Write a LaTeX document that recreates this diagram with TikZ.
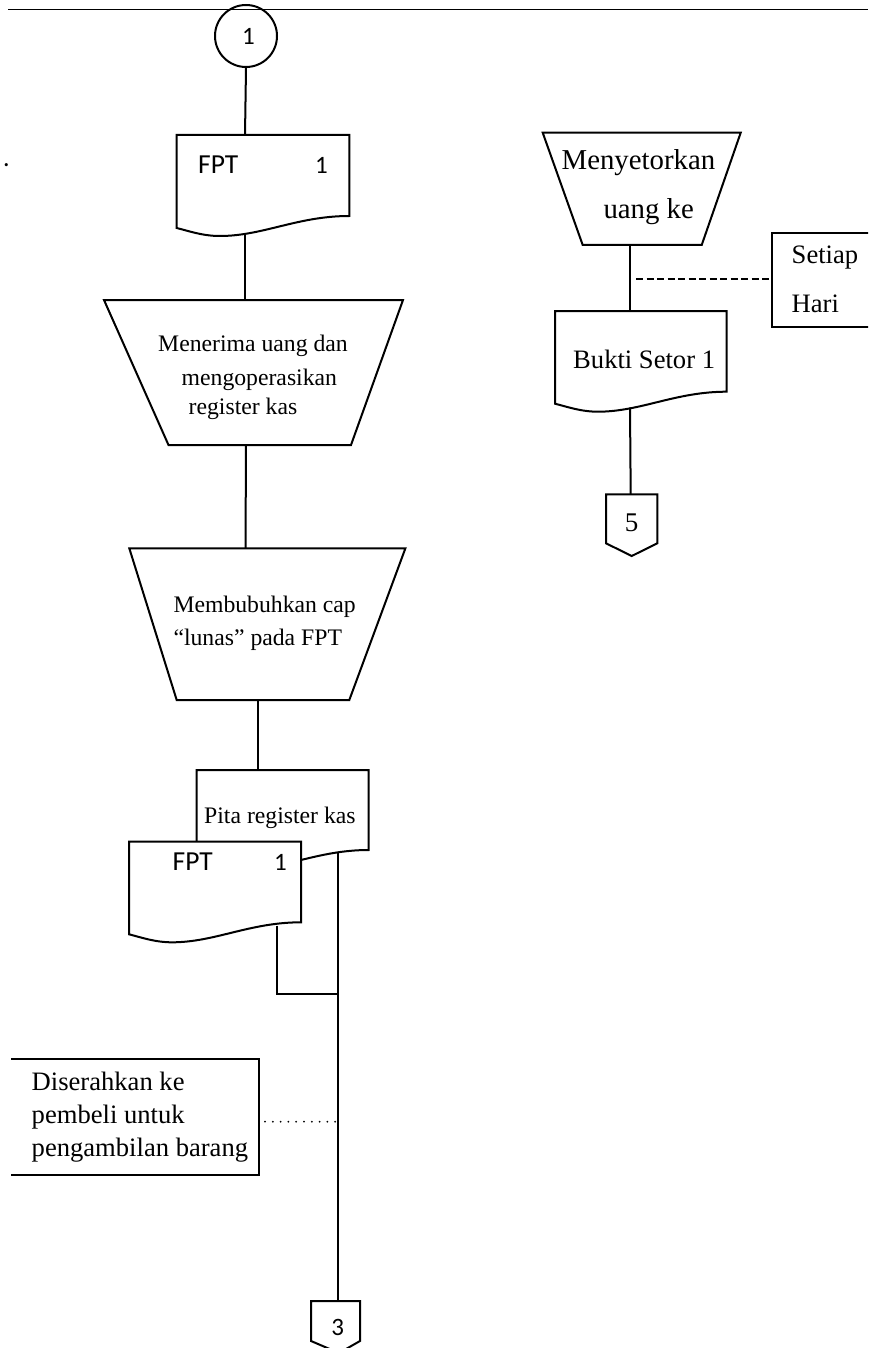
\documentclass[tikz,border=0pt]{standalone}
\usepackage{fontspec}
\setmainfont{Liberation Serif}
\newfontfamily\carl{Carlito}

% document symbol: flat top, wavy bottom edge (x0, x1, top, right-bottom y)
\newcommand\DocBox[4]{%
  \pgfmathsetmacro\docw{#2-#1}%
  \draw[shp] (#1,#3) -- (#2,#3) -- (#2,#4)
    .. controls ({#2-0.3*\docw},#4) and ({#1+0.5*\docw},{#4+20}) .. ({#1+0.25*\docw},{#4+20})
    .. controls ({#1+0.15*\docw},{#4+20}) and ({#1+0.07*\docw},{#4+15}) .. (#1,{#4+12}) -- cycle;
}

\tikzset{
  ln/.style={line width=2pt},
  shp/.style={line width=2pt, fill=white, line join=miter},
  txt/.style={inner sep=0pt, anchor=base west, font=\fontsize{23.7}{28}\selectfont},
  txtbig/.style={inner sep=0pt, anchor=base west, font=\fontsize{26.6}{32}\selectfont},
  txthuge/.style={inner sep=0pt, anchor=base west, font=\fontsize{28.8}{34}\selectfont},
  sanslbl/.style={inner sep=0pt, anchor=base west, font=\carl\fontsize{27.5}{32}\selectfont},
  sansnum/.style={inner sep=0pt, anchor=base west, font=\carl\fontsize{25}{30}\selectfont},
  dashlink/.style={line width=2pt, dash pattern=on 7pt off 3.5pt},
  dotlink/.style={line width=2pt, line cap=round, dash pattern=on 0pt off 7.8pt},
}

\begin{document}
\begin{tikzpicture}[x=1pt,y=-1pt]
\useasboundingbox (0,0) rectangle (868,1348);
\clip (0,0) rectangle (868,1348);

% ---------------- left column ----------------
% on-page connector
\node[circle, draw, line width=2pt, minimum size=62pt, inner sep=0pt,
      font=\carl\fontsize{25}{30}\selectfont] (c1) at (246,36) {\hspace*{5pt}1};
\draw[line width=1.5pt] (8.3,9.3) -- (868,9.3);
\node[inner sep=0pt, anchor=base west, font=\carl\fontsize{26}{30}\selectfont] (dot) at (3,166.5) {.};

% FPT document
\DocBox{176.7}{349.3}{135}{216}
\coordinate (fptAtop) at (245,135);
\coordinate (fptAbot) at (245,232.8);
\node[sanslbl] (fptAname) at (198,173.3) {FPT};
\node[sansnum] (fptAno) at (315,173.3) {1};

% manual operation: receive money
\draw[shp] (104,300) -- (403,300) -- (351,445) -- (168.5,445) -- cycle;
\coordinate (trAtop) at (245,300);
\coordinate (trAbot) at (246,445);
\node[txt] (trAa) at (158,351.7) {Menerima uang dan};
\node[txt] (trAb) at (181.5,385) {mengoperasikan};
\node[txt] (trAc) at (188.5,414.5) {register kas};

% manual operation: stamp
\draw[shp] (129.3,548.3) -- (405.4,548.3) -- (349.3,700) -- (176.7,700) -- cycle;
\coordinate (trBtop) at (245.5,548.3);
\coordinate (trBbot) at (258.3,700);
\node[txt] (trBa) at (173.3,612) {Membubuhkan cap};
\node[txt] (trBb) at (173.3,645.7) {``lunas'' pada FPT};

% stacked documents
\DocBox{196.7}{368.7}{770}{850}
\coordinate (pitatop) at (258.3,770);
\coordinate (pitabot) at (338.3,852.4);
\node[txt] (pita) at (204,823.6) {Pita register kas};

\DocBox{129}{301}{841.7}{922.3}
\coordinate (fptBbot) at (276.7,925.6);
\node[sanslbl] (fptBname) at (172.5,870) {FPT};
\node[sansnum] (fptBno) at (274,870) {1};

\coordinate (join) at (338.3,994.3);
\coordinate (dots) at (337,1121.7);
\coordinate (offBtop) at (338.3,1301);

% annotation
\draw[ln] (11,1059.3) -- (259.3,1059.3) -- (259.3,1175) -- (11,1175);
\coordinate (noteB) at (265,1121.7);
\node[txtbig] (noteBa) at (31.5,1090) {Diserahkan ke};
\node[txtbig] (noteBb) at (31.5,1123.3) {pembeli untuk};
\node[txtbig] (noteBc) at (31.5,1156.7) {pengambilan barang};

% off-page connector 3
\draw[shp] (311,1301) -- (360,1301) -- (360,1341) -- (339,1353) -- (311,1341) -- cycle;
\node[inner sep=0pt, anchor=base, font=\carl\fontsize{25}{30}\selectfont] (offB) at (337.7,1335.7) {3};

% connectors, left column
\draw[ln] (c1.south) -- (fptAtop);
\draw[ln] (fptAbot) -- (trAtop);
\draw[ln] (trAbot) -- (trBtop);
\draw[ln] (trBbot) -- (pitatop);
\draw[ln] (pitabot) -- (offBtop);
\draw[ln] (fptBbot) |- (join);
\draw[dotlink] (noteB) -- (dots);

% ---------------- right column ----------------
\draw[shp] (542.7,132.7) -- (740.7,132.7) -- (701.7,245) -- (582.7,245) -- cycle;
\coordinate (trCbot) at (630,245);
\node[txthuge] (trCa) at (561.5,170) {Menyetorkan};
\node[txthuge] (trCb) at (603.3,219) {uang ke};

% annotation, open to the right
\draw[ln] (880,232.7) -- (772.3,232.7) -- (772.3,326.7) -- (880,326.7);
\coordinate (noteA) at (772.3,279.3);
\coordinate (tick) at (636,279.3);
\node[txtbig] (noteAa) at (791.5,263.8) {Setiap};
\node[txtbig] (noteAb) at (791.5,312.7) {Hari};

\DocBox{555}{726.7}{311}{391.7}
\coordinate (buktitop) at (630,311);
\coordinate (buktibot) at (630,407.5);
\node[txtbig] (bukti) at (573,368.5) {Bukti Setor 1};

% off-page connector 5
\draw[shp] (606,494.3) -- (657.3,494.3) -- (657.3,543.3) -- (631.7,556) -- (606,543.3) -- cycle;
\coordinate (offAtop) at (630.7,494.3);
\node[inner sep=0pt, anchor=base, font=\fontsize{27}{32}\selectfont] (offA) at (631.5,531.7) {5};

% connectors, right column
\draw[ln] (trCbot) -- (buktitop);
\draw[ln] (buktibot) -- (offAtop);
\draw[dashlink] (tick) -- (noteA);

\end{tikzpicture}
\end{document}
